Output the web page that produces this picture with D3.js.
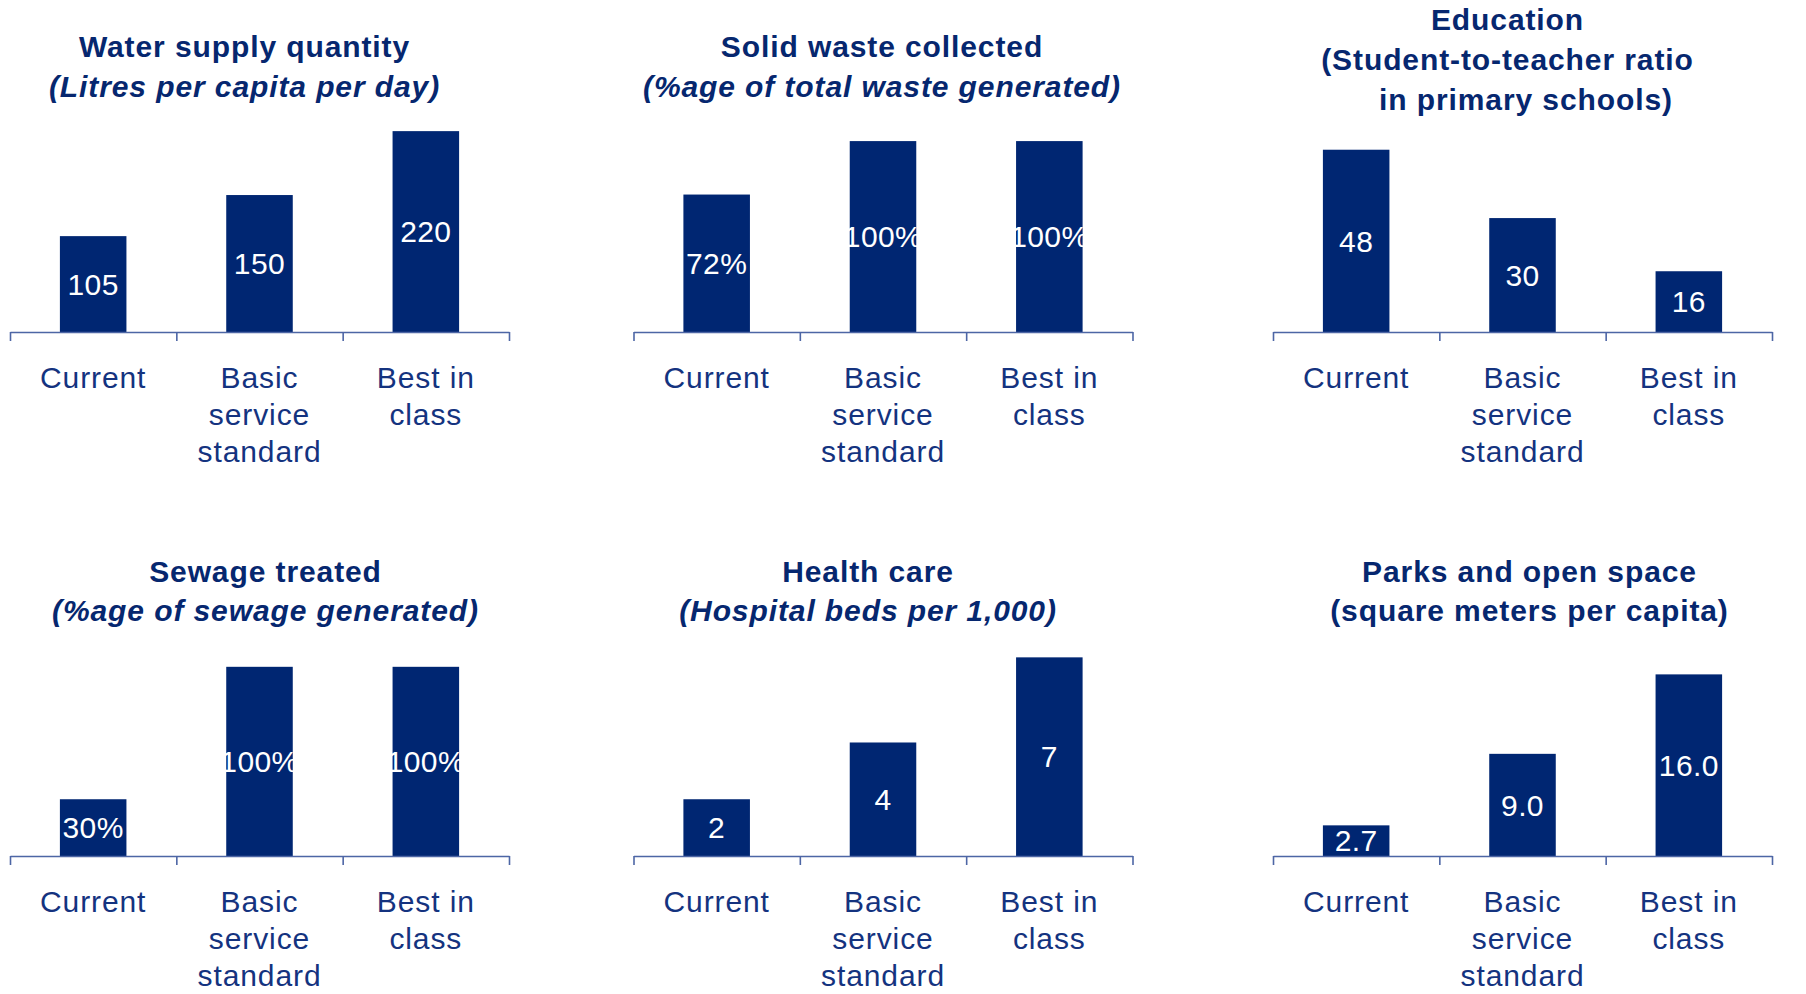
<!DOCTYPE html>
<html>
<head>
<meta charset="utf-8">
<script src="https://cdn.jsdelivr.net/npm/d3@7"></script>
<style>
  html, body { margin: 0; padding: 0; background: #ffffff; }
  svg { display: block; }
  text { font-family: "Liberation Sans", Arial, Helvetica, sans-serif; }
</style>
</head>
<body>
<svg id="chart" width="1806" height="994"></svg>
<script>
// ---- data ----
const categories = ["Current", "Basic service standard", "Best in class"];
const categoryLines = [["Current"], ["Basic", "service", "standard"], ["Best in", "class"]];

const titles = [
  ["Water supply quantity", "(Litres per capita per day)"],
  ["Solid waste collected", "(%age of total waste generated)"],
  ["Education", "(Student-to-teacher ratio", "\u00a0\u00a0\u00a0\u00a0in primary schools)"],
  ["Sewage treated", "(%age of sewage generated)"],
  ["Health care", "(Hospital beds per 1,000)"],
  ["Parks and open space", "(square meters per capita)"]
];
const subtitleItalic = [true, true, false, true, true, false];

const waterSupply = [105, 150, 220];
const solidWaste = [72, 100, 100];
const studentTeacher = [48, 30, 16];
const sewageTreated = [30, 100, 100];
const hospitalBeds = [2, 4, 7];
const openSpace = [2.7, 9.0, 16.0];

const series = [waterSupply, solidWaste, studentTeacher, sewageTreated, hospitalBeds, openSpace];
const axisMax = [230, 110, 55.3, 111, 7.4, 18.5];
const labelFormats = [
  d3.format("d"),
  v => v + "%",
  d3.format("d"),
  v => v + "%",
  d3.format("d"),
  d3.format(".1f")
];

// ---- layout ----
const colX = [10, 633.5, 1273];
const rowAxisY = [332, 856];
const panelW = 499;
const plotH = 210;
const titleShift = [-15, -1, -15, 6, -15, 7];
const titleBaseTop = [[57, 97], [57, 97], [30, 70, 110]];
const titleBaseBottom = [582, 621];

const navy = "#002672";
const textNavy = "#06276f";
const labelNavy = "#14337f";
const axisColor = "#4d66a5";

const svg = d3.select("#chart");
svg.append("rect").attr("width", 1806).attr("height", 994).attr("fill", "#ffffff");

series.forEach((values, i) => {
  const col = i % 3, row = Math.floor(i / 3);
  const x0 = colX[col];
  const axisY = rowAxisY[row];
  const g = svg.append("g");

  const x = d3.scaleBand().domain(categories).range([x0, x0 + panelW])
    .paddingInner(0.6).paddingOuter(0.3);
  const edges = d3.scaleLinear().domain([0, categories.length]).range([x0, x0 + panelW]);
  const y = d3.scaleLinear().domain([0, axisMax[i]]).range([axisY, axisY - plotH]);

  // bars
  g.selectAll("rect.bar").data(values).join("rect")
    .attr("class", "bar")
    .attr("x", (d, k) => x(categories[k]))
    .attr("y", d => y(d))
    .attr("width", x.bandwidth())
    .attr("height", d => y(0) - y(d))
    .attr("fill", navy);

  // value labels, centred in each bar
  g.selectAll("text.val").data(values).join("text")
    .attr("class", "val")
    .attr("x", (d, k) => x(categories[k]) + x.bandwidth() / 2)
    .attr("y", d => (y(d) + y(0)) / 2)
    .attr("dy", "0.36em")
    .attr("text-anchor", "middle")
    .attr("fill", "#ffffff")
    .attr("font-size", 30)
    .attr("letter-spacing", 0.4)
    .text((d, k) => labelFormats[i](d));

  // category axis with ticks at the band boundaries
  const axis = d3.axisBottom(edges)
    .tickValues(d3.range(categories.length + 1))
    .tickSize(9).tickSizeOuter(0).tickFormat("");
  const ax = g.append("g").attr("transform", `translate(0,${axisY})`).call(axis);
  ax.select(".domain").attr("stroke", axisColor).attr("stroke-width", 1.6);
  ax.selectAll(".tick line").attr("stroke", axisColor).attr("stroke-width", 1.6);

  // category labels
  categories.forEach((c, k) => {
    const t = g.append("text")
      .attr("x", x(c) + x.bandwidth() / 2)
      .attr("y", axisY + 56)
      .attr("text-anchor", "middle")
      .attr("fill", labelNavy)
      .attr("font-size", 30)
      .attr("letter-spacing", 0.9);
    categoryLines[k].forEach((line, j) => {
      t.append("tspan").attr("x", x(c) + x.bandwidth() / 2)
        .attr("y", axisY + 56 + j * 37).text(line);
    });
  });

  // title
  const cx = x0 + panelW / 2 + titleShift[i];
  const bases = row === 0 ? titleBaseTop[col === 2 ? 2 : 0] : titleBaseBottom;
  titles[i].forEach((line, j) => {
    g.append("text")
      .attr("x", cx)
      .attr("y", bases[j])
      .attr("text-anchor", "middle")
      .attr("fill", textNavy)
      .attr("font-size", 30)
      .attr("font-weight", "bold")
      .attr("letter-spacing", 0.9)
      .attr("font-style", j > 0 && subtitleItalic[i] ? "italic" : "normal")
      .text(line);
  });
});
</script>
</body>
</html>
